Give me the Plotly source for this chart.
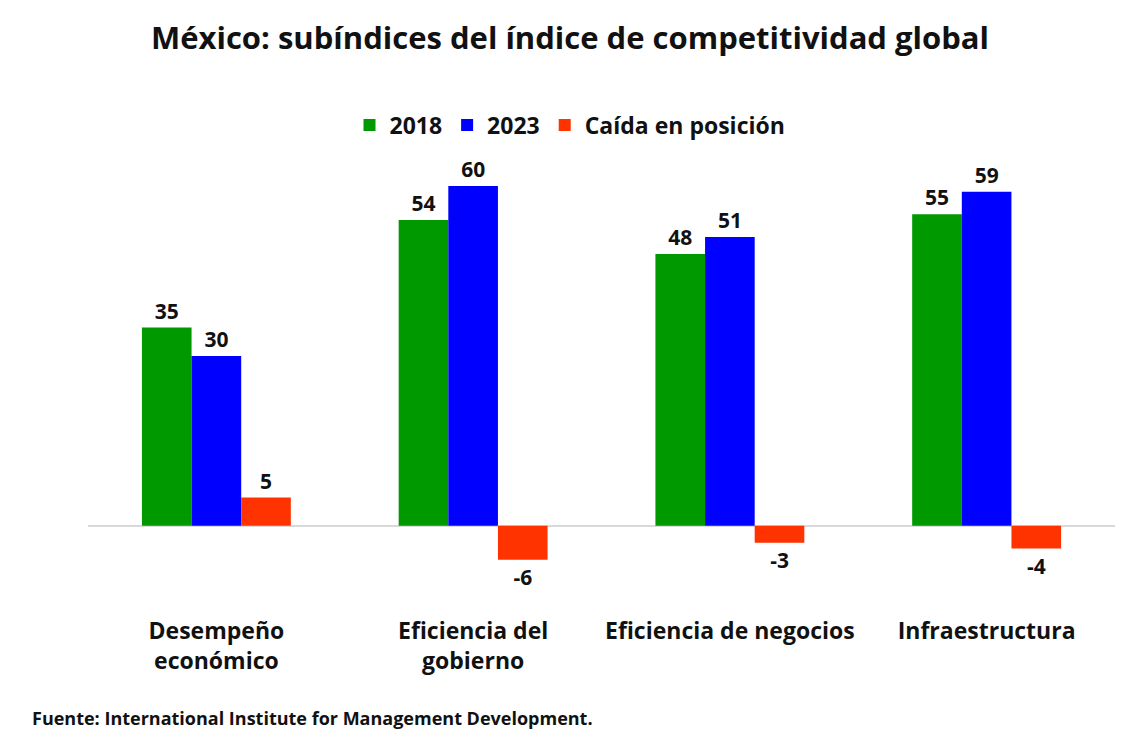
import plotly.graph_objects as go

categories = ["Desempeño<br>económico", "Eficiencia del<br>gobierno", "Eficiencia de negocios", "Infraestructura"]
v2018 = [35, 54, 48, 55]
v2023 = [30, 60, 51, 59]
caida = [5, -6, -3, -4]

FONT = "Open Sans"
fig = go.Figure()
for name, vals, col in [("2018", v2018, "#009900"), ("2023", v2023, "#0000FF"), ("Caída en posición", caida, "#FF3300")]:
    fig.add_trace(go.Bar(
        x=categories, y=vals, name=name, marker=dict(color=col, line=dict(width=0)),
        text=[str(v) for v in vals], textposition="outside", cliponaxis=False,
        textfont=dict(family=FONT, size=21, color="#111111", weight="bold"),
    ))

fig.update_layout(
    width=1142, height=748,
    paper_bgcolor="white", plot_bgcolor="white",
    barmode="group", bargap=0.42, bargroupgap=0,
    margin=dict(l=80, r=35, t=144, b=148, autoexpand=False),
    title=dict(text="<b>México: subíndices del índice de competitividad global</b>",
               x=562 / 1142, xref="container", xanchor="center", y=1 - 30 / 748, yanchor="middle",
               font=dict(family=FONT, size=31, color="#111111")),
    legend=dict(orientation="h", xref="container", x=562 / 1142, xanchor="center", yref="container",
                y=1 - 117 / 748, yanchor="middle", font=dict(family=FONT, size=23, color="#111111", weight="bold"),
                itemwidth=30, traceorder="normal"),
    xaxis=dict(showline=False, ticks="", showgrid=False, automargin=False, ticklabelstandoff=7,
               tickfont=dict(family=FONT, size=23, color="#111111", weight="bold")),
    yaxis=dict(range=[-14.5, 66], showgrid=False, showticklabels=False, zeroline=True,
               zerolinecolor="#d9d9d9", zerolinewidth=1.5, showline=False, automargin=False),
    annotations=[dict(text="<b>Fuente: International Institute for Management Development.</b>",
                      xref="paper", yref="paper", x=(22 - 80) / 1027, y=(600 - 710) / 456,
                      xanchor="left", yanchor="middle",
                      showarrow=False, font=dict(family=FONT, size=18, color="#111111"))],
)
fig.write_html("out.html")
